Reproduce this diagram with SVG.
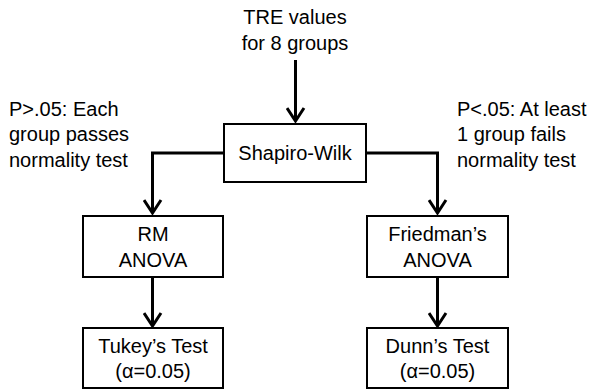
<svg xmlns="http://www.w3.org/2000/svg" width="589" height="390" viewBox="0 0 589 390">
<style>
.box{fill:#fff;stroke:#000;stroke-width:2}
.t{font-family:"Liberation Sans",Arial,sans-serif;font-size:20px;fill:#000}
.c{text-anchor:middle}
.con{fill:none;stroke:#000;stroke-width:3}
</style>
<defs>
<marker id="ah" markerUnits="userSpaceOnUse" viewBox="0 0 17 20" refX="15" refY="10" markerWidth="17" markerHeight="20" orient="auto">
<path d="M2,1.5 L15,10 L2,18.5" fill="none" stroke="#000" stroke-width="3"/>
</marker>
</defs>
<rect width="589" height="390" fill="#fff"/>
<g id="connectors">
<path class="con" d="M295.5,60 V121" marker-end="url(#ah)"/>
<path class="con" d="M224,153 H152.5 V213" marker-end="url(#ah)"/>
<path class="con" d="M366,153 H437.5 V213" marker-end="url(#ah)"/>
<path class="con" d="M152.5,277 V326" marker-end="url(#ah)"/>
<path class="con" d="M437.5,277 V326" marker-end="url(#ah)"/>
</g>
<g id="input">
<text class="t c" x="295" y="24">TRE values</text>
<text class="t c" x="295" y="50">for 8 groups</text>
</g>
<g id="shapiro">
<rect class="box" x="224" y="124" width="142" height="58"/>
<text class="t c" x="295" y="160">Shapiro-Wilk</text>
</g>
<g id="label-pass">
<text class="t" x="9" y="116">P&gt;.05: Each</text>
<text class="t" x="9" y="141">group passes</text>
<text class="t" x="9" y="167">normality test</text>
</g>
<g id="label-fail">
<text class="t" x="457" y="116">P&lt;.05: At least</text>
<text class="t" x="457" y="141">1 group fails</text>
<text class="t" x="457" y="167">normality test</text>
</g>
<g id="rm-anova">
<rect class="box" x="83" y="216" width="140" height="61"/>
<text class="t c" x="153" y="241">RM</text>
<text class="t c" x="153" y="267">ANOVA</text>
</g>
<g id="friedman">
<rect class="box" x="367" y="216" width="141" height="61"/>
<text class="t c" x="437.5" y="241">Friedman’s</text>
<text class="t c" x="437.5" y="267">ANOVA</text>
</g>
<g id="tukey">
<rect class="box" x="83" y="328" width="140" height="60"/>
<text class="t c" x="153" y="353">Tukey’s Test</text>
<text class="t c" x="153" y="378">(α=0.05)</text>
</g>
<g id="dunn">
<rect class="box" x="367" y="328" width="141" height="60"/>
<text class="t c" x="437.5" y="353">Dunn’s Test</text>
<text class="t c" x="437.5" y="378">(α=0.05)</text>
</g>
</svg>
